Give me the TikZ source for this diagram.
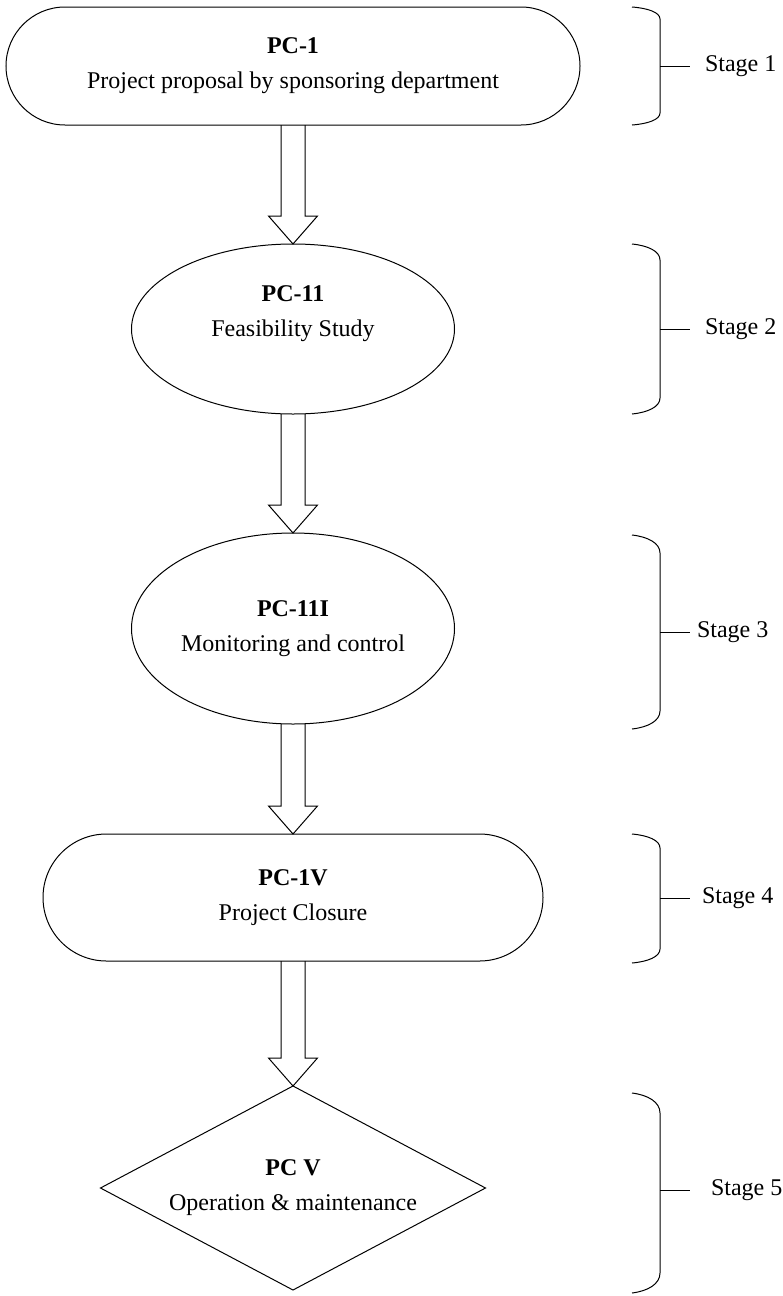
\documentclass[tikz,border=0pt]{standalone}
\usepackage{fontspec}
\setmainfont{Liberation Serif}
\usetikzlibrary{shapes.geometric,shapes.misc,calc}

\newcommand{\fatarrow}[2]{%
\draw ($(#1.south)+(-12,0)$)--($(#2.north)+(-12,-28)$)--($(#2.north)+(-24.5,-28)$)--(#2.north)
  --($(#2.north)+(24.5,-28)$)--($(#2.north)+(12,-28)$)--($(#1.south)+(12,0)$);}

\begin{document}
\begin{tikzpicture}[x=0.5pt, y=-0.5pt, line width=0.5pt, line join=miter,
  font=\fontsize{12}{17.5}\selectfont,
  every node/.style={outer sep=0pt, inner sep=0pt},
  stadium/.style={draw, rounded rectangle, align=center},
  oval/.style={draw, ellipse, align=center},
  decision/.style={draw, diamond, aspect=1.9, align=center},
  stage/.style={anchor=west}]
\useasboundingbox (0,0) rectangle (782,1296);

\node[stadium, minimum width=287pt, minimum height=59pt] (PC1) at (293,66){\textbf{PC-1}\\Project proposal by sponsoring department};
\node[oval, minimum width=161.5pt, minimum height=85pt] (PC2) at (293,329){};
\node[align=center] (PC2txt) at (293,314){\textbf{PC-11}\\Feasibility Study};
\node[oval, minimum width=161.5pt, minimum height=95.5pt] (PC3) at (293,628.5){\textbf{PC-11I}\\Monitoring and control};
\node[stadium, minimum width=250pt, minimum height=63.5pt] (PC4) at (293,897.5){\textbf{PC-1V}\\Project Closure};
\node[decision, minimum width=192.5pt, minimum height=102pt] (PC5) at (293,1188){\textbf{PC V}\\Operation \& maintenance};

\fatarrow{PC1}{PC2}
\fatarrow{PC2}{PC3}
\fatarrow{PC3}{PC4}
\fatarrow{PC4}{PC5}

% stage brackets
\foreach \ya/\yb/\ym/\ch/\n/\tx in {7/125/66/12/1/705, 244/414/329/16/2/705, 535/729/632/18/3/697, 834/963/898/14/4/702, 1093/1293/1190/20/5/711}{
  \draw (632,\ya) .. controls (648,\ya+0.1*\ch) and (660,\ya+0.45*\ch) .. (660,\ya+\ch)
    -- (660,\yb-\ch) .. controls (660,\yb-0.45*\ch) and (648,\yb-0.1*\ch) .. (632,\yb);
  \coordinate (B\n) at (660,\ym);
  \coordinate (T\n) at (690,\ym);
  \draw (B\n) -- (T\n);
  \node[stage] (S\n) at (\tx,\ym) {Stage \n};
}

\end{tikzpicture}
\end{document}
